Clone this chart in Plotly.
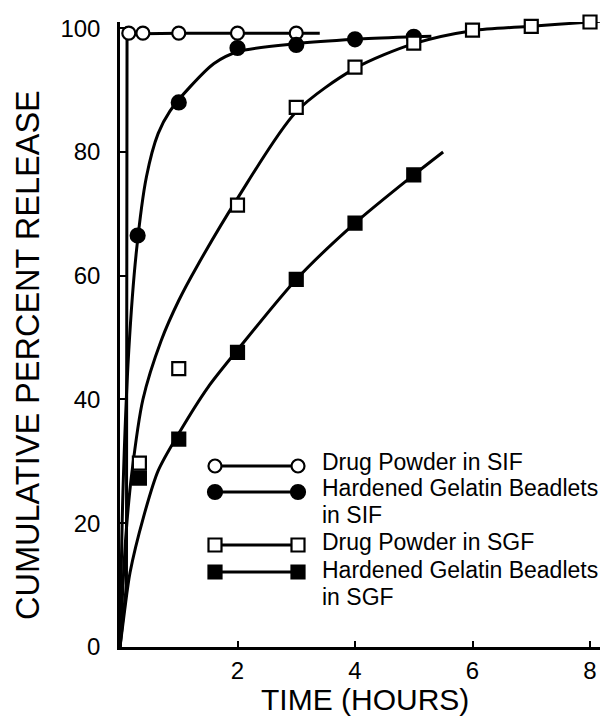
import plotly.graph_objects as go

# ---------------- data ----------------
sif_powder_t = [0.15, 0.39, 1, 2, 3]
sif_powder_y = [99.2, 99.2, 99.2, 99.2, 99.2]
sif_beads_t = [0.3, 1, 2, 3, 4, 5]
sif_beads_y = [66.5, 88.0, 96.8, 97.3, 98.2, 98.6]
sgf_powder_t = [0.33, 1, 2, 3, 4, 5, 6, 7, 8]
sgf_powder_y = [29.7, 45.0, 71.4, 87.2, 93.7, 97.6, 99.7, 100.3, 101.0]
sgf_beads_t = [0.33, 1, 2, 3, 4, 5]
sgf_beads_y = [27.3, 33.6, 47.6, 59.4, 68.5, 76.3]

# drawn (fitted) curves
sif_powder_curve_t = [0.0, 0.11, 0.12, 0.15, 0.39, 1, 2, 3, 3.4]
sif_powder_curve_y = [0.0, 10, 100.3, 99.3, 99.1, 99.2, 99.2, 99.2, 99.2]
sif_beads_curve_t = [0, 0.05, 0.15, 0.28, 0.45, 0.65, 0.85, 1.2, 1.6, 2, 3, 4, 5, 5.3]
sif_beads_curve_y = [0, 25, 48, 64, 76.0, 83.0, 86.6, 90.6, 94.3, 96.2, 97.5, 98.2, 98.6, 98.7]
sgf_powder_curve_t = [0, 0.04, 0.1, 0.2, 0.39, 0.7, 1.0, 1.31, 2, 3, 4, 5, 6, 7, 8, 8.3]
sgf_powder_curve_y = [0, 8, 18, 28, 40, 49.5, 56, 61.5, 72.5, 86.5, 93.5, 97.5, 99.6, 100.3, 101.0, 101.2]
sgf_beads_curve_t = [0, 0.08, 0.17, 0.4, 0.65, 1, 1.5, 2, 3, 4, 5, 5.5]
sgf_beads_curve_y = [0, 6, 12, 21, 28.5, 34.5, 42, 48, 59.4, 68.5, 76.3, 80]

legend_labels = ["Drug Powder in SIF", "Hardened Gelatin Beadlets<br>in SIF",
                 "Drug Powder in SGF", "Hardened Gelatin Beadlets<br>in SGF"]
x_ticks = [2, 4, 6, 8]
y_ticks = [0, 20, 40, 60, 80, 100]
x_title = "TIME (HOURS)"
y_title = "CUMULATIVE PERCENT RELEASE"

# ---------------- styling / layout ----------------
W, H = 608, 717
L, R, T, B = 120, 8, 22, 70
PW, PH = W - L - R, H - T - B
FONT = "Liberation Sans, Arial, sans-serif"
LW = 3

def px_x(px):
    return (px - L) / PW

def px_y(py):
    return (H - B - py) / PH

series = [
    dict(ct=sif_powder_curve_t, cy=sif_powder_curve_y, t=sif_powder_t, y=sif_powder_y,
         symbol="circle", fill="white", size=13, shape="linear"),
    dict(ct=sif_beads_curve_t, cy=sif_beads_curve_y, t=sif_beads_t, y=sif_beads_y,
         symbol="circle", fill="black", size=14, shape="spline"),
    dict(ct=sgf_powder_curve_t, cy=sgf_powder_curve_y, t=sgf_powder_t, y=sgf_powder_y,
         symbol="square", fill="white", size=13, shape="spline"),
    dict(ct=sgf_beads_curve_t, cy=sgf_beads_curve_y, t=sgf_beads_t, y=sgf_beads_y,
         symbol="square", fill="black", size=13, shape="spline"),
]

fig = go.Figure()
for s in series:
    fig.add_trace(go.Scatter(x=s["ct"], y=s["cy"], mode="lines",
                             line=dict(color="black", width=LW, shape=s["shape"], smoothing=0.8),
                             showlegend=False, hoverinfo="skip", cliponaxis=False))
for s in series:
    fig.add_trace(go.Scatter(x=s["t"], y=s["y"], mode="markers",
                             marker=dict(symbol=s["symbol"], size=s["size"], color=s["fill"],
                                         line=dict(color="black", width=2.2)),
                             showlegend=False, cliponaxis=False))

# ---------------- manual legend ----------------
shapes = []
annotations = []
marker_py = [466, 492, 545, 572]
text_py = [[462], [488, 515], [542], [570, 597]]
for i, s in enumerate(series):
    yp = px_y(marker_py[i])
    shapes.append(dict(type="line", xref="paper", yref="paper", x0=px_x(215), x1=px_x(298),
                       y0=yp, y1=yp, line=dict(color="black", width=LW)))
    r = s["size"] / 2
    for mx in (215, 298):
        shapes.append(dict(type="circle" if s["symbol"] == "circle" else "rect",
                           xref="paper", yref="paper", xsizemode="pixel", ysizemode="pixel",
                           xanchor=px_x(mx), yanchor=yp, x0=-r, x1=r, y0=-r, y1=r,
                           fillcolor=s["fill"], line=dict(color="black", width=2.2)))
    for line_txt, ty in zip(legend_labels[i].split("<br>"), text_py[i]):
        annotations.append(dict(text=line_txt, xref="paper", yref="paper", x=px_x(320),
                                y=px_y(ty), xanchor="left", yanchor="middle", showarrow=False,
                                font=dict(family=FONT, size=23, color="black")))

annotations.append(dict(text=x_title, xref="paper", yref="paper", x=px_x(365), y=px_y(699),
                        xanchor="center", yanchor="middle", showarrow=False,
                        font=dict(family=FONT, size=30, color="black")))
annotations.append(dict(text=y_title, xref="paper", yref="paper", x=px_x(28), y=px_y(355),
                        xanchor="center", yanchor="middle", showarrow=False, textangle=-90,
                        font=dict(family=FONT, size=32.5, color="black")))

axis_common = dict(showgrid=False, zeroline=False, showline=True, linecolor="black",
                   linewidth=2.5, ticks="inside", ticklen=6, tickwidth=2, tickcolor="black",
                   tickfont=dict(family=FONT, size=24, color="black"), mirror=False)
fig.update_layout(
    width=W, height=H, margin=dict(l=L, r=R, t=T, b=B),
    paper_bgcolor="white", plot_bgcolor="white",
    xaxis=dict(range=[0, 8.17], tickvals=x_ticks, ticklabelstandoff=0, **axis_common),
    yaxis=dict(range=[0, 101], tickvals=y_ticks, ticklabelstandoff=12, **axis_common),
    shapes=shapes, annotations=annotations, showlegend=False,
)
fig.write_html("out.html")
